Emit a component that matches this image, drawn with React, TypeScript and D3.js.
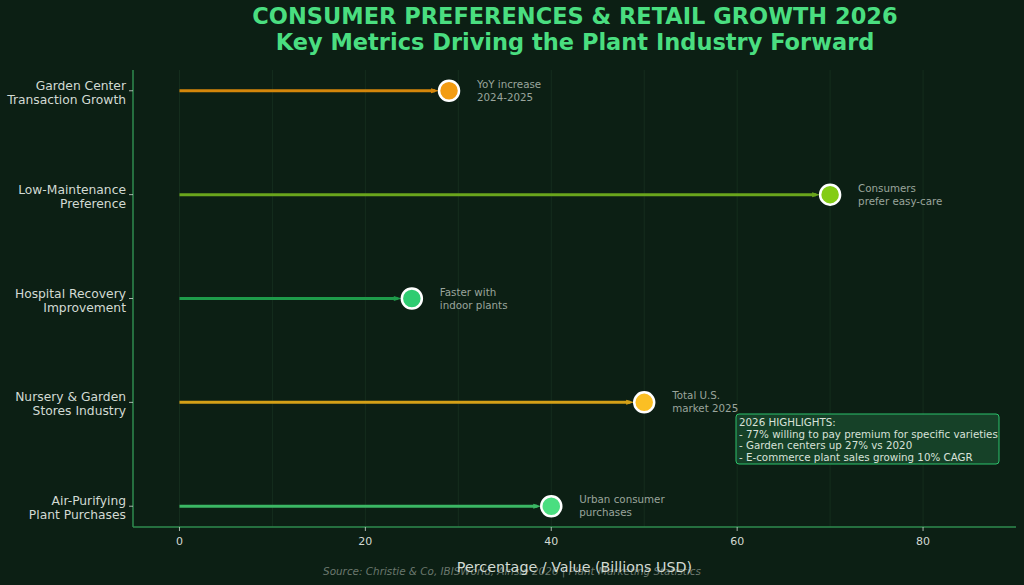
import React from "react";
import * as d3 from "d3";

const categories = [
  "Garden Center\nTransaction Growth",
  "Low-Maintenance\nPreference",
  "Hospital Recovery\nImprovement",
  "Nursery & Garden\nStores Industry",
  "Air-Purifying\nPlant Purchases",
];
const values = [29, 70, 25, 50, 40];
const notes = [
  "YoY increase\n2024-2025",
  "Consumers\nprefer easy-care",
  "Faster with\nindoor plants",
  "Total U.S.\nmarket 2025",
  "Urban consumer\npurchases",
];
const stemColors = ["#d4860b", "#6aa51c", "#1e9b4a", "#d4a017", "#3bb764"];
const dotColors = ["#f39c12", "#84cc16", "#2ecc71", "#fbbf24", "#4ade80"];
const xTicks = [0, 20, 40, 60, 80];
const gridTicks = [0, 10, 20, 30, 40, 50, 60, 70, 80];
const highlights = [
  "2026 HIGHLIGHTS:",
  "- 77% willing to pay premium for specific varieties",
  "- Garden centers up 27% vs 2020",
  "- E-commerce plant sales growing 10% CAGR",
];

const W = 1024;
const H = 585;
const M = { left: 133, right: 1016, top: 70, bottom: 527 };
const FONT = "DejaVu Sans, sans-serif";

export default function App() {
  const x = d3.scaleLinear().domain([-5, 90]).range([M.left, M.right]);
  const y = d3
    .scaleLinear()
    .domain([-0.2, 4.2])
    .range([M.top, M.bottom]);

  return (
    <svg
      width={W}
      height={H}
      style={{ position: "absolute", left: 0, top: 0, background: "#0c1f14" }}
    >
      <rect x={0} y={0} width={W} height={H} fill="#0c1f14" />
      {/* title */}
      <text
        x={575}
        y={24}
        textAnchor="middle"
        fill="#4ade80"
        fontFamily={FONT}
        fontWeight="bold"
        fontSize={22.5}
      >
        CONSUMER PREFERENCES &amp; RETAIL GROWTH 2026
      </text>
      <text
        x={575}
        y={50}
        textAnchor="middle"
        fill="#4ade80"
        fontFamily={FONT}
        fontWeight="bold"
        fontSize={22.5}
      >
        Key Metrics Driving the Plant Industry Forward
      </text>

      {/* vertical grid */}
      {gridTicks.map((t) => (
        <line
          key={"g" + t}
          x1={x(t)}
          x2={x(t)}
          y1={M.top}
          y2={M.bottom}
          stroke="#1d3a26"
          strokeWidth={0.8}
          opacity={0.7}
        />
      ))}

      {/* stems and dots */}
      {values.map((v, i) => {
        const cy = y(i);
        const x0 = x(0);
        const x1 = x(v);
        const r = 10;
        return (
          <g key={"s" + i}>
            <line
              x1={x0}
              x2={x1 - r - 4}
              y1={cy}
              y2={cy}
              stroke={stemColors[i]}
              strokeWidth={3}
            />
            <path
              d={`M${x1 - r - 8},${cy - 2.5} L${x1 - r},${cy} L${x1 - r - 8},${cy + 2.5} Z`}
              fill={stemColors[i]}
            />
            <circle
              cx={x1}
              cy={cy}
              r={r}
              fill={dotColors[i]}
              stroke="#ffffff"
              strokeWidth={2.5}
            />
            {notes[i].split("\n").map((ln, k) => (
              <text
                key={k}
                x={x1 + 28}
                y={cy - 3 + k * 13}
                fill="#9aa59c"
                fontFamily={FONT}
                fontSize={10.3}
              >
                {ln}
              </text>
            ))}
          </g>
        );
      })}

      {/* axes spines */}
      <line x1={M.left} x2={M.left} y1={M.top} y2={M.bottom} stroke="#2e8b4e" strokeWidth={1.5} />
      <line x1={M.left} x2={M.right} y1={M.bottom} y2={M.bottom} stroke="#2e8b4e" strokeWidth={1.5} />

      {/* y labels */}
      {categories.map((c, i) => {
        const cy = y(i);
        return (
          <g key={"y" + i}>
            <line x1={M.left - 4} x2={M.left} y1={cy} y2={cy} stroke="#cfd8d0" strokeWidth={0.8} />
            {c.split("\n").map((ln, k) => (
              <text
                key={k}
                x={M.left - 7}
                y={cy - 1 + k * 14}
                textAnchor="end"
                fill="#d2dad3"
                fontFamily={FONT}
                fontSize={12.3}
              >
                {ln}
              </text>
            ))}
          </g>
        );
      })}

      {/* x ticks */}
      {xTicks.map((t) => (
        <g key={"x" + t}>
          <line x1={x(t)} x2={x(t)} y1={M.bottom} y2={M.bottom + 4} stroke="#cfd8d0" strokeWidth={0.8} />
          <text
            x={x(t)}
            y={M.bottom + 18}
            textAnchor="middle"
            fill="#d2dad3"
            fontFamily={FONT}
            fontSize={11}
          >
            {t}
          </text>
        </g>
      ))}

      {/* source */}
      <text
        x={512}
        y={575}
        textAnchor="middle"
        fill="#6b786e"
        fontFamily={FONT}
        fontStyle="italic"
        fontSize={10.4}
      >
        Source: Christie &amp; Co, IBISWorld, Ainsle 2026 | Plant Marketing Statistics
      </text>
      <text
        x={574.5}
        y={572}
        textAnchor="middle"
        fill="#d2dad3"
        fontFamily={FONT}
        fontSize={14.3}
      >
        Percentage / Value (Billions USD)
      </text>

      {/* highlights box */}
      <rect
        x={736}
        y={414}
        width={263}
        height={50}
        rx={3}
        fill="#17432a"
        stroke="#2ecc71"
        strokeWidth={1}
        opacity={0.95}
      />
      {highlights.map((h, k) => (
        <text
          key={k}
          x={739}
          y={426 + k * 11.5}
          fill="#d8e2d9"
          fontFamily={FONT}
          fontSize={10.3}
        >
          {h}
        </text>
      ))}
    </svg>
  );
}
